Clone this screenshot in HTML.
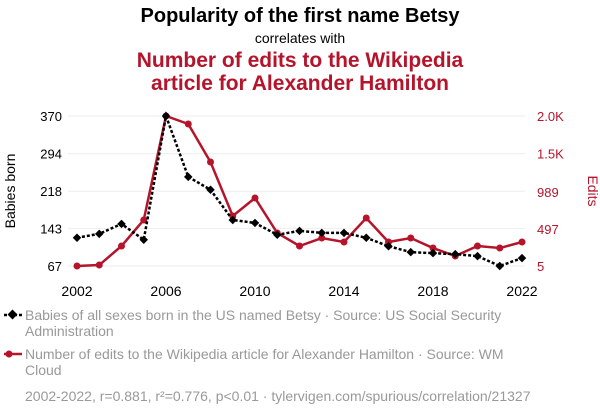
<!DOCTYPE html>
<html><head><meta charset="utf-8"><style>
body{margin:0;background:#fff;font-family:"Liberation Sans",sans-serif;}
svg text{font-family:"Liberation Sans",sans-serif;}
</style></head><body>
<svg id="c" width="600" height="414" xmlns="http://www.w3.org/2000/svg">
<text x="300" y="22" text-anchor="middle" font-size="20" font-weight="bold" fill="#000">Popularity of the first name Betsy</text>
<text x="300" y="43" text-anchor="middle" font-size="14" fill="#000">correlates with</text>
<text x="300" y="67" text-anchor="middle" font-size="21" font-weight="bold" fill="#b5142b">Number of edits to the Wikipedia</text>
<text x="300" y="90" text-anchor="middle" font-size="21" font-weight="bold" fill="#b5142b">article for Alexander Hamilton</text>
<text transform="translate(15,191) rotate(-90)" text-anchor="middle" font-size="14" fill="#000">Babies born</text>
<text transform="translate(588,191) rotate(90)" text-anchor="middle" font-size="14" fill="#b5142b">Edits</text>
<g id="grid"></g><g id="axes"></g><g id="series"></g>
<line x1="4" y1="315" x2="22" y2="315" stroke="#000" stroke-width="2.5" stroke-dasharray="3,2"/>
<rect x="9" y="311" width="7" height="7" transform="rotate(45 12.5 314.5)" fill="#000"/>
<text x="25" y="320" font-size="14" fill="#999">Babies of all sexes born in the US named Betsy · Source: US Social Security</text>
<text x="25" y="336" font-size="14" fill="#999">Administration</text>
<line x1="4" y1="354" x2="22" y2="354" stroke="#b5142b" stroke-width="2.5"/>
<circle cx="9" cy="354" r="3.5" fill="#b5142b"/>
<text x="25" y="359" font-size="14" fill="#999">Number of edits to the Wikipedia article for Alexander Hamilton · Source: WM</text>
<text x="25" y="375" font-size="14" fill="#999">Cloud</text>
<text x="25" y="401" font-size="14" fill="#999">2002-2022, r=0.881, r²=0.776, p&lt;0.01 · tylervigen.com/spurious/correlation/21327</text>
</svg>
<script>
const years=[2002,2003,2004,2005,2006,2007,2008,2009,2010,2011,2012,2013,2014,2015,2016,2017,2018,2019,2020,2021,2022];
const babies=[124,132,152,120,370,247,221,160,154,130,138,134,134,124,107,95,93,91,87,67,83];
const edits=[5,18,271,617,2000,1894,1388,670,910,444,271,377,324,643,324,377,244,138,271,244,324];
const leftTicks=[67,143,218,294,370];
const rightTicks=[5,497,989,1500,2000];
const rightLabels=["5","497","989","1.5K","2.0K"];
const xTicks=[2002,2006,2010,2014,2018,2022];
const NS="http://www.w3.org/2000/svg";
const x=v=>77+(v-2002)/20*445;
const yL=v=>266-(v-67)/(370-67)*150;
const yR=v=>266-(v-5)/(2000-5)*150;
function mk(t,a,p){const e=document.createElementNS(NS,t);for(const k in a)e.setAttribute(k,a[k]);document.getElementById(p).appendChild(e);return e;}
leftTicks.forEach((v,i)=>{
 const g=mk('line',{x1:68,x2:525,y1:yL(v),y2:yL(v),stroke:'#eee','stroke-width':1},'grid');
 
 
 const t=mk('text',{x:62,y:yL(v)+5,'text-anchor':'end','font-size':13,fill:'#000'},'axes');
 t.textContent=v;
 
 
});
rightTicks.forEach((v,i)=>{
 const t=mk('text',{x:537,y:yR(v)+5,'text-anchor':'start','font-size':13,fill:'#b5142b'},'axes');
 t.textContent=rightLabels[i];
 
 
});
xTicks.forEach(v=>{
 const t=mk('text',{x:x(v),y:296,'text-anchor':'middle','font-size':14,fill:'#000'},'axes');
 t.textContent=v;
 
 
});
const pr=mk('polyline',{points:years.map((y,i)=>x(y)+','+yR(edits[i])).join(' '),fill:'none',stroke:'#b5142b','stroke-width':2.5},'series');


years.forEach((y,i)=>{
 const c=mk('circle',{cx:x(y),cy:yR(edits[i]),r:3.5,fill:'#b5142b'},'series');
 
 
});
const pb=mk('polyline',{points:years.map((y,i)=>x(y)+','+yL(babies[i])).join(' '),fill:'none',stroke:'#000','stroke-width':2.5,'stroke-dasharray':'3,2'},'series');


years.forEach((y,i)=>{
 const cx=x(y),cy=yL(babies[i]);
 const r=mk('rect',{x:cx-3,y:cy-3,width:6,height:6,fill:'#000',transform:`rotate(45 ${cx} ${cy})`},'series');
 
 
});
</script>
</body></html>
